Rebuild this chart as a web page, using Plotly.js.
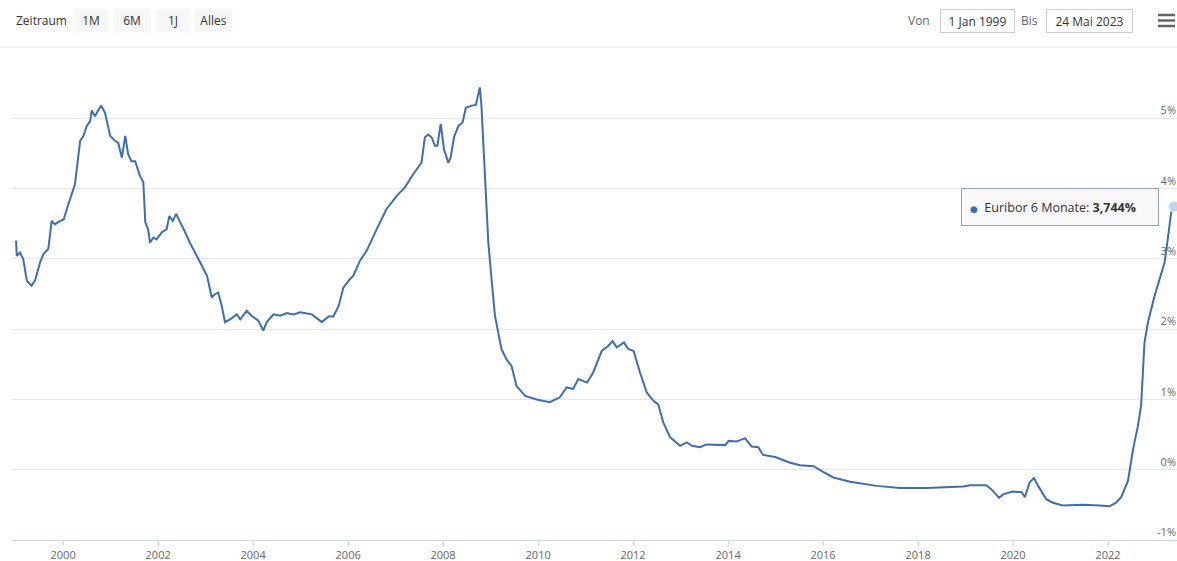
<!DOCTYPE html>
<html>
<head>
<meta charset="utf-8">
<script src="https://cdn.plot.ly/plotly-3.0.1.min.js"></script>
<style>
  html, body { margin: 0; padding: 0; background: #ffffff; }
  #chart { width: 1177px; height: 561px; }
</style>
</head>
<body>
<div id="chart"></div>
<script>
// ---- Data: Euribor 6 Monate (%) ----
const dates = [
  '1999-01-04','1999-01-10','1999-02-03','1999-02-28','1999-03-28','1999-05-03','1999-05-30','1999-07-08','1999-08-03','1999-09-09',
  '1999-10-05','1999-10-30','1999-12-10','2000-01-05','2000-01-30','2000-03-07','2000-04-01','2000-05-11','2000-06-06','2000-07-01',
  '2000-07-27','2000-08-08','2000-09-02','2000-09-27','2000-10-20','2000-11-18','2000-12-28','2001-02-03','2001-02-28','2001-03-28',
  '2001-04-23','2001-05-15','2001-06-10','2001-07-08','2001-08-14','2001-09-09','2001-09-24','2001-10-16','2001-10-30','2001-11-25',
  '2001-12-20','2002-01-30','2002-03-07','2002-03-28','2002-04-23','2002-05-19','2002-06-17','2002-07-27','2002-09-02','2002-09-27',
  '2002-11-18','2003-01-12','2003-02-17','2003-03-15','2003-04-08','2003-05-05','2003-05-30','2003-07-08','2003-08-29','2003-09-24',
  '2003-11-13','2003-12-20','2004-02-10','2004-03-20','2004-04-15','2004-06-06','2004-07-27','2004-09-16','2004-11-06','2004-12-28',
  '2005-03-28','2005-06-13','2005-08-03','2005-09-09','2005-10-20','2005-11-25','2006-01-05','2006-02-10','2006-04-01','2006-05-22',
  '2006-08-08','2006-10-23','2007-01-12','2007-03-15','2007-05-15','2007-07-19','2007-08-14','2007-09-09','2007-10-05','2007-10-30',
  '2007-11-18','2007-12-14','2008-01-08','2008-02-10','2008-02-28','2008-03-25','2008-04-27','2008-05-30','2008-06-24','2008-08-08',
  '2008-09-09','2008-10-10','2008-10-22','2008-11-18','2008-12-14','2009-01-08','2009-02-03','2009-03-25','2009-05-03','2009-06-10',
  '2009-07-19','2009-09-24','2009-12-20','2010-04-01','2010-06-17','2010-08-08','2010-09-27','2010-11-06','2011-01-12','2011-02-28',
  '2011-05-05','2011-06-24','2011-07-27','2011-08-29','2011-10-23','2011-11-25','2012-01-05','2012-02-24','2012-04-15','2012-06-06',
  '2012-07-12','2012-08-21','2012-10-12','2012-12-28','2013-02-17','2013-03-28','2013-05-30','2013-07-19','2013-12-10','2014-01-05',
  '2014-03-07','2014-05-11','2014-07-01','2014-08-21','2014-09-27','2014-12-28','2015-04-23','2015-07-08','2015-10-20','2016-01-01',
  '2016-03-20','2016-07-27','2017-02-17','2017-08-14','2018-03-07','2018-12-14','2019-02-03','2019-06-10','2019-07-19','2019-09-16',
  '2019-10-16','2020-01-01','2020-03-07','2020-04-01','2020-05-08','2020-06-10','2020-07-12','2020-09-12','2020-11-03','2021-01-19',
  '2021-06-20','2021-10-30','2022-01-12','2022-03-03','2022-04-12','2022-06-03','2022-07-12','2022-08-18','2022-09-12','2022-10-08',
  '2022-11-03','2022-12-24','2023-02-03','2023-03-12','2023-04-05','2023-05-01','2023-05-24'
];
const rates = [
  3.26,3.04,3.09,3.00,2.69,2.62,2.69,2.95,3.07,3.14,
  3.54,3.49,3.54,3.56,3.71,3.94,4.06,4.68,4.75,4.89,
  4.96,5.11,5.03,5.11,5.18,5.08,4.75,4.68,4.65,4.44,
  4.75,4.49,4.39,4.39,4.18,4.09,3.52,3.42,3.23,3.30,
  3.28,3.38,3.42,3.61,3.54,3.64,3.54,3.38,3.23,3.14,
  2.95,2.76,2.45,2.50,2.52,2.33,2.10,2.14,2.21,2.14,
  2.26,2.19,2.12,1.98,2.10,2.21,2.19,2.23,2.21,2.24,
  2.21,2.10,2.18,2.18,2.33,2.59,2.69,2.76,2.97,3.11,
  3.42,3.71,3.90,4.02,4.20,4.37,4.73,4.77,4.73,4.61,
  4.61,4.92,4.56,4.37,4.44,4.73,4.89,4.94,5.15,5.18,
  5.19,5.44,5.18,4.13,3.23,2.71,2.19,1.72,1.57,1.48,
  1.19,1.05,1.00,0.96,1.03,1.17,1.15,1.29,1.24,1.38,
  1.69,1.76,1.83,1.74,1.81,1.72,1.69,1.38,1.10,0.98,
  0.93,0.67,0.46,0.34,0.39,0.34,0.32,0.36,0.35,0.41,
  0.40,0.45,0.33,0.32,0.21,0.18,0.10,0.065,0.05,-0.03,
  -0.11,-0.17,-0.23,-0.26,-0.26,-0.24,-0.22,-0.22,-0.28,-0.40,
  -0.35,-0.31,-0.32,-0.39,-0.18,-0.12,-0.23,-0.42,-0.47,-0.51,
  -0.50,-0.51,-0.52,-0.47,-0.39,-0.16,0.29,0.62,0.91,1.81,
  2.09,2.47,2.71,2.95,3.28,3.66,3.744
];
const seriesName = 'Euribor 6 Monate';
const yTicks = [-1, 0, 1, 2, 3, 4, 5];
const yTickText = ['-1%', '0%', '1%', '2%', '3%', '4%', '5%'];
const xTickYears = ['2000','2002','2004','2006','2008','2010','2012','2014','2016','2018','2020','2022'];
const rangeButtons = ['1M', '6M', '1J', 'Alles'];
const fromLabel = 'Von', toLabel = 'Bis';
const fromDate = '1 Jan 1999', toDate = '24 Mai 2023';
const periodLabel = 'Zeitraum';

// ---- Layout helpers (pixel -> paper) ----
const W = 1177, H = 561, ML = 12, MR = 0, MT = 48, MB = 21;
const PW = W - ML - MR, PH = H - MT - MB;
const px = X => (X - ML) / PW;
const py = Y => (H - MB - Y) / PH;

const lineColor = '#3d6db5';
const FONT = '"Open Sans", "Noto Sans", "DejaVu Sans", sans-serif';

const lastI = dates.length - 1;
const lastVal = rates[lastI].toFixed(3).replace('.', ',');

const traces = [
  {
    x: dates, y: rates, type: 'scatter', mode: 'lines', name: seriesName,
    line: { color: lineColor, width: 2 }, hoverinfo: 'skip'
  },
  {
    x: [dates[lastI]], y: [rates[lastI]], type: 'scatter', mode: 'markers',
    marker: { size: 11, color: 'rgba(190,210,236,0.95)', line: { color: '#ffffff', width: 1 } },
    hoverinfo: 'skip', showlegend: false, cliponaxis: false
  }
];

const hb = (Y) => ({ type: 'line', xref: 'paper', yref: 'paper',
  x0: px(1158), x1: px(1175), y0: py(Y), y1: py(Y),
  line: { color: '#666666', width: 2.5 } });

// range buttons drawn as boxed labels: [left px, right px]
const btnPos = [[74, 108], [114, 150], [156, 190], [195, 232]];
const buttonAnns = rangeButtons.map((lab, i) => ({
  xref: 'paper', yref: 'paper',
  x: px((btnPos[i][0] + btnPos[i][1]) / 2), y: py(20.5),
  xanchor: 'center', yanchor: 'middle', showarrow: false,
  text: lab, width: btnPos[i][1] - btnPos[i][0], height: 23, borderpad: 0,
  bgcolor: '#f7f7f7', font: { family: FONT, size: 12, color: '#333333' }
}));

const layout = {
  width: W, height: H,
  margin: { l: ML, r: MR, t: MT, b: MB, pad: 0 },
  paper_bgcolor: '#ffffff', plot_bgcolor: '#ffffff',
  font: { family: FONT, size: 11, color: '#666666' },
  showlegend: false,
  hovermode: false,
  xaxis: {
    type: 'date',
    range: ['1998-12-04', '2023-06-15'],
    tickvals: xTickYears.map(y => y + '-01-01'),
    ticktext: xTickYears,
    showgrid: false, zeroline: false,
    showline: true, linecolor: '#ccd6eb', linewidth: 1,
    ticks: 'outside', ticklen: 5, tickcolor: '#ccd6eb',
    tickfont: { family: FONT, size: 11, color: '#666666' },
    automargin: false
  },
  yaxis: {
    side: 'right',
    range: [-1, 6],
    tickvals: yTicks,
    ticktext: yTickText,
    ticklabelposition: 'inside top',
    ticklabelstandoff: -2,
    showgrid: true, gridcolor: '#e6e6e6', gridwidth: 1,
    zeroline: false, showline: false, ticks: '',
    tickfont: { family: FONT, size: 11, color: '#666666' },
    automargin: false
  },
  shapes: [
    { type: 'line', xref: 'paper', yref: 'paper', x0: px(0), x1: px(W), y0: py(47), y1: py(47),
      line: { color: '#e6e6e6', width: 1 } },
    hb(15), hb(20.5), hb(26)
  ],
  annotations: buttonAnns.concat([
    { xref: 'paper', yref: 'paper', x: px(14), y: py(20.5), xanchor: 'left', yanchor: 'middle',
      text: periodLabel, showarrow: false, font: { family: FONT, size: 12, color: '#333333' } },
    { xref: 'paper', yref: 'paper', x: px(932), y: py(21), xanchor: 'right', yanchor: 'middle',
      text: fromLabel, showarrow: false, font: { family: FONT, size: 12, color: '#666666' } },
    { xref: 'paper', yref: 'paper', x: px(977.5), y: py(21), xanchor: 'center', yanchor: 'middle',
      text: fromDate, showarrow: false, width: 69, height: 18, borderpad: 2,
      bordercolor: '#cccccc', borderwidth: 1, bgcolor: '#ffffff',
      font: { family: FONT, size: 12, color: '#333333' } },
    { xref: 'paper', yref: 'paper', x: px(1040), y: py(21), xanchor: 'right', yanchor: 'middle',
      text: toLabel, showarrow: false, font: { family: FONT, size: 12, color: '#666666' } },
    { xref: 'paper', yref: 'paper', x: px(1089.5), y: py(21), xanchor: 'center', yanchor: 'middle',
      text: toDate, showarrow: false, width: 81, height: 18, borderpad: 2,
      bordercolor: '#cccccc', borderwidth: 1, bgcolor: '#ffffff',
      font: { family: FONT, size: 12, color: '#333333' } },
    { xref: 'x', yref: 'y', x: dates[lastI], y: rates[lastI], xanchor: 'right', yanchor: 'middle',
      xshift: -15, showarrow: false,
      text: '<span style="color:' + lineColor + ';font-size:9px">●</span>  ' + seriesName + ': <b>' + lastVal + '%</b>',
      width: 180, height: 20, borderpad: 8, align: 'left',
      bordercolor: '#8aa6cf', borderwidth: 1, bgcolor: 'rgba(247,247,247,0.9)',
      font: { family: FONT, size: 12.5, color: '#333333' } }
  ])
};

Plotly.newPlot('chart', traces, layout, { displayModeBar: false, responsive: false });
</script>
</body>
</html>
